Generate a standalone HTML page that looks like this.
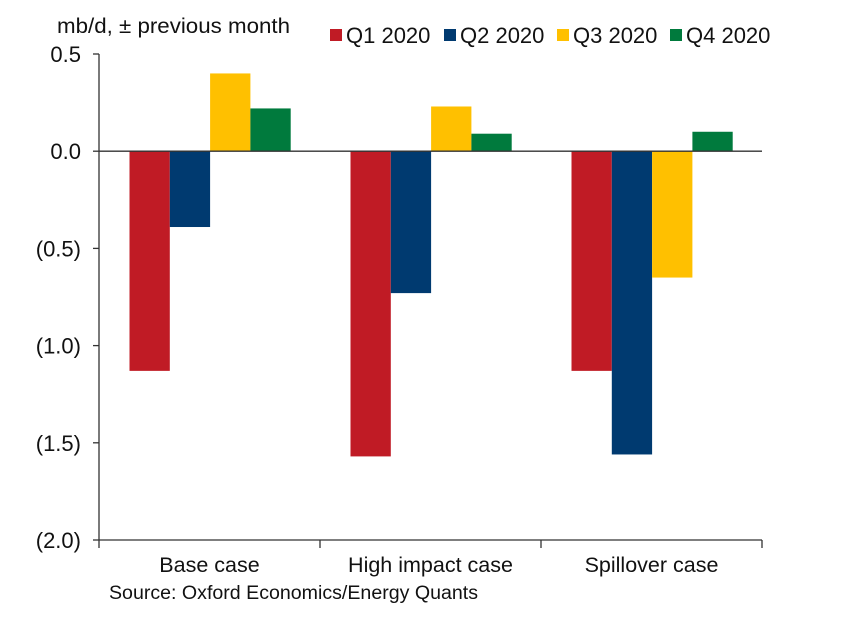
<!DOCTYPE html>
<html><head><meta charset="utf-8"><style>
html,body{margin:0;padding:0;background:#fff;}
svg{display:block;font-family:"Liberation Sans",Arial,sans-serif;}
</style></head><body>
<svg id="chart" width="844" height="619" viewBox="0 0 844 619">
<text x="57" y="33" font-size="21.5" fill="#111" textLength="233" lengthAdjust="spacingAndGlyphs">mb/d, ± previous month</text>
<g id="legend"></g>
<g id="yaxis"></g>
<g id="bars"></g>
<g id="xaxis"></g>
<text x="109" y="599" font-size="19" fill="#111" textLength="369" lengthAdjust="spacingAndGlyphs">Source: Oxford Economics/Energy Quants</text>
</svg>
<script>
const categories = ["Base case", "High impact case", "Spillover case"];
const seriesNames = ["Q1 2020", "Q2 2020", "Q3 2020", "Q4 2020"];
const q1 = [-1.13, -1.57, -1.13];
const q2 = [-0.39, -0.73, -1.56];
const q3 = [0.40, 0.23, -0.65];
const q4 = [0.22, 0.09, 0.10];
const yTicks = [0.5, 0.0, -0.5, -1.0, -1.5, -2.0];
const yTickLabels = ["0.5", "0.0", "(0.5)", "(1.0)", "(1.5)", "(2.0)"];
const colors = ["#C01B25", "#003A70", "#FFC000", "#007A3D"];

const NS = "http://www.w3.org/2000/svg";
const X0 = 99, X1 = 762, yTop = 54, yBot = 540, vMax = 0.5, vMin = -2.0;
function y(v){ return yTop + (vMax - v) / (vMax - vMin) * (yBot - yTop); }
const catW = (X1 - X0) / categories.length;
function xCat(i){ return X0 + i * catW; }
const barW = 40.3, groupPad = 30.5;
function mk(tag, attrs, parent){ const e = document.createElementNS(NS, tag); for (const k in attrs) e.setAttribute(k, attrs[k]); parent.appendChild(e); return e; }

const yg = document.getElementById("yaxis");
const ax = mk("line", {x1:X0, y1:yTop, x2:X0, y2:yBot, stroke:"#333", "stroke-width":1.3}, yg);


yTicks.forEach((t, i) => {
  const tk = mk("line", {x1:X0-6, y1:y(t), x2:X0, y2:y(t), stroke:"#333", "stroke-width":1.3}, yg);
  
  
  const tx = mk("text", {x:81, y:y(t)+8, "font-size":22, "text-anchor":"end", fill:"#111"}, yg);
  tx.textContent = yTickLabels[i];
  
  
});

const bg = document.getElementById("bars");
const series = [q1, q2, q3, q4];
series.forEach((vals, s) => {
  vals.forEach((v, i) => {
    const x = xCat(i) + groupPad + s * barW;
    const r = mk("rect", {x:x, y:Math.min(y(v), y(0)), width:barW, height:Math.abs(y(v) - y(0)), fill:colors[s]}, bg);
    
    
  });
});
const zl = mk("line", {x1:X0, y1:y(0), x2:X1, y2:y(0), stroke:"#333", "stroke-width":1.3}, bg);



const xg = document.getElementById("xaxis");
const xl = mk("line", {x1:X0, y1:yBot, x2:X1, y2:yBot, stroke:"#333", "stroke-width":1.3}, xg);


for (let i = 0; i <= categories.length; i++) {
  const tk = mk("line", {x1:xCat(i), y1:yBot, x2:xCat(i), y2:yBot+8, stroke:"#333", "stroke-width":1.3}, xg);
  
  
}
categories.forEach((c, i) => {
  const tx = mk("text", {x:xCat(i)+catW/2, y:572, "font-size":21.5, "text-anchor":"middle", fill:"#111"}, xg);
  tx.textContent = c;
  
  
});

const lg = document.getElementById("legend");
const legX = [330, 444, 557, 670];
seriesNames.forEach((n, s) => {
  const g = mk("g", {}, lg);
  
  
  mk("rect", {x:legX[s], y:29, width:12, height:12, fill:colors[s]}, g);
  const tx = mk("text", {x:legX[s]+16, y:43, "font-size":22, fill:"#111"}, g);
  tx.textContent = n;
});
</script>
</body></html>
